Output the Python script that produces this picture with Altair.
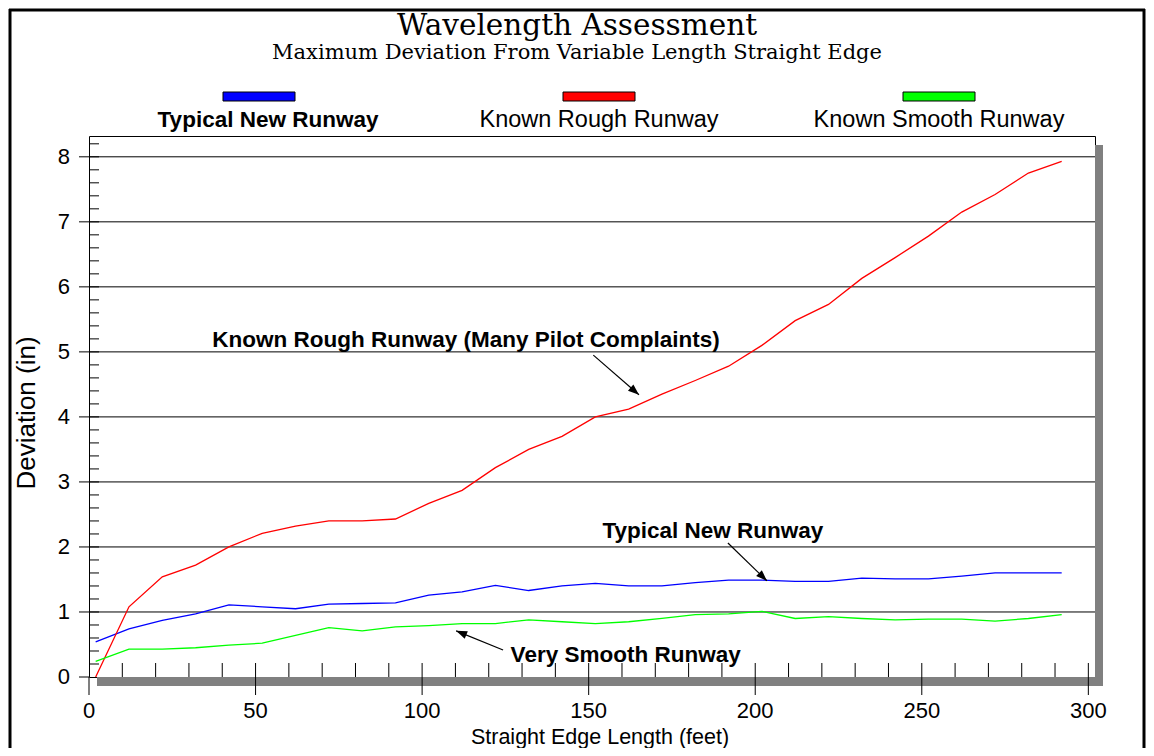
import math
import altair as alt
import pandas as pd

# ---------------- data ----------------
TITLE = "Wavelength Assessment"
SUBTITLE = "Maximum Deviation From Variable Length Straight Edge"
X_TITLE = "Straight Edge Length (feet)"
Y_TITLE = "Deviation (in)"

SERIES = ["Typical New Runway", "Known Rough Runway", "Known Smooth Runway"]
SERIES_COLORS = ["#0000ff", "#ff0000", "#00ff00"]

LENGTH_FT = [2, 12, 22, 32, 42, 52, 62, 72, 82, 92, 102, 112, 122, 132, 142,
             152, 162, 172, 182, 192, 202, 212, 222, 232, 242, 252, 262, 272, 282, 292]
TYPICAL_NEW = [0.54, 0.74, 0.87, 0.97, 1.11, 1.08, 1.05, 1.12, 1.13, 1.14, 1.26, 1.31, 1.41, 1.33, 1.40,
               1.44, 1.40, 1.40, 1.45, 1.49, 1.49, 1.47, 1.47, 1.52, 1.51, 1.51, 1.55, 1.60, 1.60, 1.60]
KNOWN_ROUGH = [0.00, 1.08, 1.54, 1.72, 2.00, 2.21, 2.32, 2.40, 2.40, 2.43, 2.67, 2.87, 3.22, 3.50, 3.70,
               4.00, 4.12, 4.35, 4.56, 4.78, 5.10, 5.48, 5.73, 6.13, 6.45, 6.78, 7.15, 7.42, 7.75, 7.93]
KNOWN_SMOOTH = [0.24, 0.43, 0.43, 0.45, 0.49, 0.52, 0.64, 0.76, 0.71, 0.77, 0.79, 0.82, 0.82, 0.88, 0.85,
                0.82, 0.85, 0.90, 0.96, 0.97, 1.01, 0.90, 0.93, 0.90, 0.88, 0.89, 0.89, 0.86, 0.90, 0.96]

X_TICKS = [0, 50, 100, 150, 200, 250, 300]
Y_TICKS = [0, 1, 2, 3, 4, 5, 6, 7, 8]
Y_GRID = [1, 2, 3, 4, 5, 6, 7, 8]
X_MINOR = [10, 20, 30, 40, 50, 60, 70, 80, 90, 100, 110, 120, 130, 140, 150,
           160, 170, 180, 190, 200, 210, 220, 230, 240, 250, 260, 270, 280, 290, 300]
Y_MINOR = [0.2, 0.4, 0.6, 0.8, 1.0, 1.2, 1.4, 1.6, 1.8, 2.0, 2.2, 2.4, 2.6, 2.8, 3.0,
           3.2, 3.4, 3.6, 3.8, 4.0, 4.2, 4.4, 4.6, 4.8, 5.0, 5.2, 5.4, 5.6, 5.8, 6.0,
           6.2, 6.4, 6.6, 6.8, 7.0, 7.2, 7.4, 7.6, 7.8, 8.0, 8.2]

NOTE_TEXT = ["Known Rough Runway (Many Pilot Complaints)", "Typical New Runway", "Very Smooth Runway"]
NOTE_X = [113.2, 187.3, 161.1]
NOTE_Y = [5.07, 2.14, 0.23]
ARROW_FROM_X = [151.4, 191.8, 124.3]
ARROW_FROM_Y = [4.95, 2.06, 0.415]
ARROW_TO_X = [165.1, 203.5, 110.2]
ARROW_TO_Y = [4.34, 1.48, 0.71]

# ---------------- layout ----------------
W, H = 1006, 541
X_MAX, Y_MAX = 302, 8.32
SANS = "Liberation Sans"
SERIF = "DejaVu Serif"

px_x = W / X_MAX
px_y = H / Y_MAX

lines_df = pd.DataFrame({
    "length": LENGTH_FT * 3,
    "dev": TYPICAL_NEW + KNOWN_ROUGH + KNOWN_SMOOTH,
    "series": [SERIES[0]] * len(LENGTH_FT) + [SERIES[1]] * len(LENGTH_FT) + [SERIES[2]] * len(LENGTH_FT),
})

angles = []
for x0, y0, x1, y1 in zip(ARROW_FROM_X, ARROW_FROM_Y, ARROW_TO_X, ARROW_TO_Y):
    dx = (x1 - x0) * px_x
    dy_up = (y1 - y0) * px_y
    angles.append(math.degrees(math.atan2(dx, dy_up)) % 360)

arrows_df = pd.DataFrame({"x0": ARROW_FROM_X, "y0": ARROW_FROM_Y,
                          "x1": ARROW_TO_X, "y1": ARROW_TO_Y, "angle": angles})
notes_df = pd.DataFrame({"text": NOTE_TEXT, "x": NOTE_X, "y": NOTE_Y})
legend_df = pd.DataFrame({"series": SERIES, "slot": list(range(len(SERIES)))})
xtick_df = pd.DataFrame({"v": X_TICKS, "label": [str(v) for v in X_TICKS]})
ytick_df = pd.DataFrame({"v": Y_TICKS, "label": [str(v) for v in Y_TICKS]})

xs = alt.Scale(domain=[0, X_MAX], nice=False, zero=False)
ys = alt.Scale(domain=[0, Y_MAX], nice=False, zero=False)
color_scale = alt.Scale(domain=SERIES, range=SERIES_COLORS)


def X(field):
    return alt.X(field, scale=xs, axis=None)


def Y(field):
    return alt.Y(field, scale=ys, axis=None)


one = pd.DataFrame({"k": [0]})

lines = alt.Chart(lines_df).mark_line(strokeWidth=1.3).encode(
    x=X("length:Q"), y=Y("dev:Q"),
    color=alt.Color("series:N", scale=color_scale, legend=None),
    order=alt.Order("length:Q"),
)

# shadow of the plot frame
shadow_right = alt.Chart(one).mark_rect(color="#808080").encode(
    x=alt.value(W), x2=alt.value(W + 8), y=alt.value(9), y2=alt.value(H + 9))
shadow_bottom = alt.Chart(one).mark_rect(color="#808080").encode(
    x=alt.value(8), x2=alt.value(W + 8), y=alt.value(H), y2=alt.value(H + 9))

grid = alt.Chart(pd.DataFrame({"v": Y_GRID})).mark_rule(color="black", strokeWidth=1).encode(
    y=Y("v:Q"))

# minor (inner) ticks
y_minor = alt.Chart(pd.DataFrame({"v": Y_MINOR})).mark_tick(
    orient="horizontal", size=10, thickness=1, color="black", opacity=1).encode(
    y=Y("v:Q"), x=alt.value(5))
x_minor = alt.Chart(pd.DataFrame({"v": X_MINOR})).mark_tick(
    orient="vertical", size=14, thickness=1, color="black", opacity=1).encode(
    x=X("v:Q"), y=alt.value(H - 7))

# major (outer) ticks and labels
y_major = alt.Chart(ytick_df).mark_tick(
    orient="horizontal", size=10, thickness=1, color="black", opacity=1).encode(
    y=Y("v:Q"), x=alt.value(-5))
x_major = alt.Chart(xtick_df).mark_tick(
    orient="vertical", size=18, thickness=1, color="black", opacity=1).encode(
    x=X("v:Q"), y=alt.value(H + 9))
y_labels = alt.Chart(ytick_df).mark_text(
    font=SANS, fontSize=22, color="black", align="right", baseline="middle").encode(
    y=Y("v:Q"), x=alt.value(-19), text="label:N")
x_labels = alt.Chart(xtick_df).mark_text(
    font=SANS, fontSize=22, color="black", align="center", baseline="middle").encode(
    x=X("v:Q"), y=alt.value(H + 33.5), text="label:N")
x_title = alt.Chart(pd.DataFrame({"t": [X_TITLE]})).mark_text(
    font=SANS, fontSize=21.5, color="black", align="center", baseline="alphabetic").encode(
    x=alt.value(511), y=alt.value(H + 66.5), text="t:N")
y_title = alt.Chart(pd.DataFrame({"t": [Y_TITLE]})).mark_text(
    font=SANS, fontSize=26, color="black", align="center", baseline="middle", angle=270).encode(
    x=alt.value(-62), y=alt.value(277), text="t:N")

arrow_lines = alt.Chart(arrows_df).mark_rule(color="black", strokeWidth=1.2).encode(
    x=X("x0:Q"), y=Y("y0:Q"), x2="x1:Q", y2="y1:Q")

HEAD_PATH = "M0,0L-0.45,1.2L0.45,1.2Z"
arrow_heads = alt.Chart(arrows_df).mark_point(
    shape=HEAD_PATH, size=336, filled=True, color="black", opacity=1).encode(
    x=X("x1:Q"), y=Y("y1:Q"), angle=alt.Angle("angle:Q", scale=None))

notes = alt.Chart(notes_df).mark_text(
    font=SANS, fontSize=22.5, fontWeight="bold", color="black",
    align="center", baseline="alphabetic").encode(
    x=X("x:Q"), y=Y("y:Q"), text="text:N")

title = alt.Chart(pd.DataFrame({"t": [TITLE]})).mark_text(
    font=SERIF, fontSize=29.5, color="black", align="center", baseline="alphabetic").encode(
    x=alt.value(488), y=alt.value(-101), text="t:N")
subtitle = alt.Chart(pd.DataFrame({"t": [SUBTITLE]})).mark_text(
    font=SERIF, fontSize=21, color="black", align="center", baseline="alphabetic").encode(
    x=alt.value(488), y=alt.value(-77.5), text="t:N")

border_left = alt.Chart(one).mark_rule(color="black", strokeWidth=3).encode(
    x=alt.value(-79), y=alt.value(-127), y2=alt.value(640))
border_right = alt.Chart(one).mark_rule(color="black", strokeWidth=3).encode(
    x=alt.value(1055), y=alt.value(-127), y2=alt.value(640))
border_top = alt.Chart(one).mark_rule(color="black", strokeWidth=3).encode(
    y=alt.value(-126), x=alt.value(-80), x2=alt.value(1056))

# custom legend: coloured bar above each label (pixel slots above the plot)
leg_base = alt.Chart(legend_df).transform_calculate(px="170 + 340 * datum.slot")
RECT_PATH = "M-1,-0.125L1,-0.125L1,0.125L-1,0.125Z"
leg_sym = leg_base.mark_point(
    shape=RECT_PATH, size=5184, filled=True, stroke="black", strokeWidth=1, opacity=1).encode(
    x=alt.X("px:Q", scale=None, axis=None), y=alt.value(-39.5),
    fill=alt.Fill("series:N", scale=color_scale, legend=None))
leg_bold = leg_base.transform_filter(alt.datum.slot == 0).mark_text(
    font=SANS, fontSize=22.5, fontWeight="bold", color="black", align="center",
    baseline="alphabetic", dx=9).encode(
    x=alt.X("px:Q", scale=None, axis=None), y=alt.value(-9), text="series:N")
leg_plain = leg_base.transform_filter(alt.datum.slot != 0).mark_text(
    font=SANS, fontSize=23.5, color="black", align="center", baseline="alphabetic").encode(
    x=alt.X("px:Q", scale=None, axis=None), y=alt.value(-9), text="series:N")

chart = alt.layer(
    shadow_right, shadow_bottom, grid, y_minor, x_minor, lines,
    y_major, x_major, y_labels, x_labels, x_title, y_title,
    arrow_lines, arrow_heads, notes, title, subtitle,
    border_left, border_right, border_top, leg_sym, leg_bold, leg_plain,
).properties(
    width=W, height=H,
    padding={"left": 81, "top": 128, "right": 51, "bottom": 71},
    autosize=alt.AutoSizeParams(type="none"),
    background="white",
).configure_view(stroke="black", strokeWidth=1)

chart.save("out.html", embed_options={"renderer": "svg", "actions": False})
